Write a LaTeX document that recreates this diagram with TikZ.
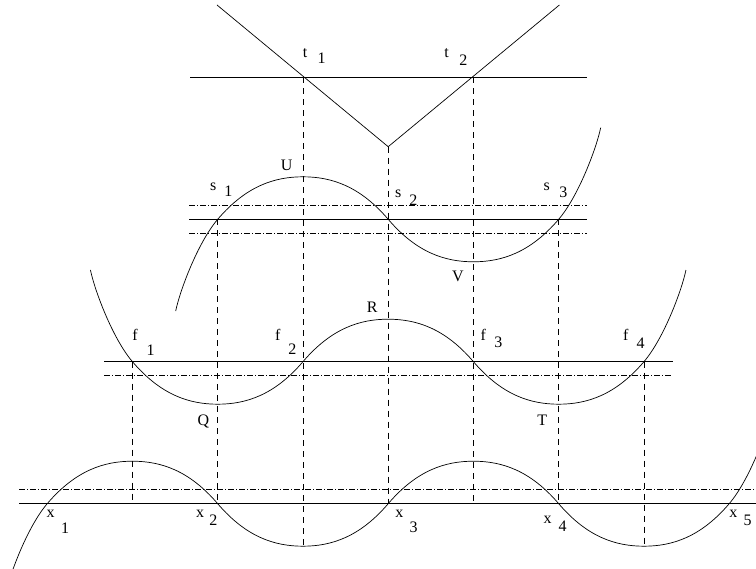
\documentclass[tikz,border=0pt]{standalone}
\usepackage{fontspec}
\setmainfont{Liberation Serif}
\begin{document}
\begin{tikzpicture}[x=1pt,y=-1pt,
  curve/.style={line width=0.7pt},
  axisline/.style={line width=0.7pt},
  guide/.style={dash pattern=on 6pt off 5pt, line width=0.6pt},
  band/.style={dash pattern=on 6pt off 2pt on 1pt off 2pt, line width=0.6pt},
  lab/.style={inner sep=0pt, font=\fontsize{16}{18}\selectfont}]
\useasboundingbox (0,0) rectangle (756,569);
\clip (0,0) rectangle (756,569);
\def\cx{28.42}
\def\cy{33.3}
% ---------- key coordinates ----------
\coordinate (vl) at (217,5);
\coordinate (vtx) at (388.2,146.7);
\coordinate (vr) at (559.4,5);
\coordinate (tA) at (302.95,77.3);
\coordinate (tB) at (473.45,77.3);
% ---------- top panel ----------
\draw[axisline] (190,77.3) -- (586.7,77.3);
\draw[curve] (vl) -- (vtx) -- (vr);
% ---------- s panel ----------
\draw[band] (189.3,205.3) -- (586.7,205.3);
\draw[axisline] (189.3,219.3) -- (586.7,219.3);
\draw[band] (189.3,233.7) -- (586.7,233.7);
\coordinate (s1) at (217.7,219.3);
\coordinate (s2) at (388.2,219.3);
\coordinate (s3) at (558.7,219.3);
\draw[curve] (175.7,311) .. controls +(4,-19.7) and +(-20,23.4) .. (s1)
  .. controls +(\cx,-\cy) and +(-\cx,0) .. (302.95,176.8)
  .. controls +(\cx,0) and +(-\cx,-\cy) .. (s2)
  .. controls +(\cx,\cy) and +(-\cx,0) .. (473.45,261.8)
  .. controls +(\cx,0) and +(-\cx,\cy) .. (s3)
  .. controls +(20,-23.4) and +(-4,19.7) .. (600.7,127.6);
% ---------- f panel ----------
\draw[axisline] (104,361.7) -- (672.7,361.7);
\draw[band] (104,375.7) -- (672.7,375.7);
\coordinate (f1) at (132.45,361.7);
\coordinate (f2) at (302.95,361.7);
\coordinate (f3) at (473.45,361.7);
\coordinate (f4) at (643.95,361.7);
\draw[curve] (90.45,270) .. controls +(4,19.7) and +(-20,-23.4) .. (f1)
  .. controls +(\cx,\cy) and +(-\cx,0) .. (217.7,404.2)
  .. controls +(\cx,0) and +(-\cx,\cy) .. (f2)
  .. controls +(\cx,-\cy) and +(-\cx,0) .. (388.2,319.2)
  .. controls +(\cx,0) and +(-\cx,-\cy) .. (f3)
  .. controls +(\cx,\cy) and +(-\cx,0) .. (558.7,404.2)
  .. controls +(\cx,0) and +(-\cx,\cy) .. (f4)
  .. controls +(20,-23.4) and +(-4,19.7) .. (685.95,270);
% ---------- bottom panel ----------
\draw[band] (19,489.7) -- (756,489.7);
\draw[axisline] (19,503.7) -- (756,503.7);
\coordinate (x1) at (47.2,503.7);
\coordinate (x2) at (217.7,503.7);
\coordinate (x3) at (388.2,503.7);
\coordinate (x4) at (558.7,503.7);
\coordinate (x5) at (729.2,503.7);
\coordinate (bq) at (302.95,546.2);
\coordinate (bt) at (643.95,546.2);
\draw[curve] (5.2,595.4) .. controls +(4,-19.7) and +(-20,23.4) .. (x1)
  .. controls +(\cx,-\cy) and +(-\cx,0) .. (132.45,461.2)
  .. controls +(\cx,0) and +(-\cx,-\cy) .. (x2)
  .. controls +(\cx,\cy) and +(-\cx,0) .. (bq)
  .. controls +(\cx,0) and +(-\cx,\cy) .. (x3)
  .. controls +(\cx,-\cy) and +(-\cx,0) .. (473.45,461.2)
  .. controls +(\cx,0) and +(-\cx,-\cy) .. (x4)
  .. controls +(\cx,\cy) and +(-\cx,0) .. (bt)
  .. controls +(\cx,0) and +(-\cx,\cy) .. (x5)
  .. controls +(20,-23.4) and +(-4,19.7) .. (771.2,412);
% ---------- dashed verticals ----------
\draw[guide] (f1) -- (f1 |- x1);
\draw[guide] (s1) -- (x2);
\draw[guide] (tA) -- (bq);
\draw[guide] (vtx) -- (x3);
\draw[guide] (tB) -- (tB |- x1);
\draw[guide] (s3) -- (x4);
\draw[guide] (f4) -- (bt);
% ---------- labels ----------
\node[lab] (lt1) at (305,53.3) {t};
\node[lab] (lt1i) at (321.7,58.3) {1};
\node[lab] (lt2) at (446.7,53.3) {t};
\node[lab] (lt2i) at (463.3,60) {2};
\node[lab] (lU) at (286.7,165) {U};
\node[lab] (ls1) at (213.3,186.7) {s};
\node[lab] (ls1i) at (228.3,191.7) {1};
\node[lab] (ls2) at (398.3,194) {s};
\node[lab] (ls2i) at (413.3,200) {2};
\node[lab] (ls3) at (546.7,186.7) {s};
\node[lab] (ls3i) at (563.3,192.7) {3};
\node[lab] (lV) at (458,276.5) {V};
\node[lab] (lf1) at (135,335) {f};
\node[lab] (lf1i) at (150.7,350) {1};
\node[lab] (lf2) at (277.7,335) {f};
\node[lab] (lf2i) at (292.3,349.3) {2};
\node[lab] (lR) at (372.3,307.3) {R};
\node[lab] (lf3) at (483.3,335) {f};
\node[lab] (lf3i) at (498.3,342.7) {3};
\node[lab] (lf4) at (625.7,335) {f};
\node[lab] (lf4i) at (640.7,343.3) {4};
\node[lab] (lQ) at (203.3,421.7) {Q};
\node[lab] (lT) at (542.3,420.7) {T};
\node[lab] (lx1) at (50.7,514.3) {x};
\node[lab] (lx1i) at (65,528.3) {1};
\node[lab] (lx2) at (200,514.3) {x};
\node[lab] (lx2i) at (213.3,520) {2};
\node[lab] (lx3) at (399.3,514.3) {x};
\node[lab] (lx3i) at (413.7,527.3) {3};
\node[lab] (lx4) at (547.7,520) {x};
\node[lab] (lx4i) at (562.7,526.7) {4};
\node[lab] (lx5) at (733.3,514.3) {x};
\node[lab] (lx5i) at (747.7,520) {5};
\end{tikzpicture}
\end{document}
